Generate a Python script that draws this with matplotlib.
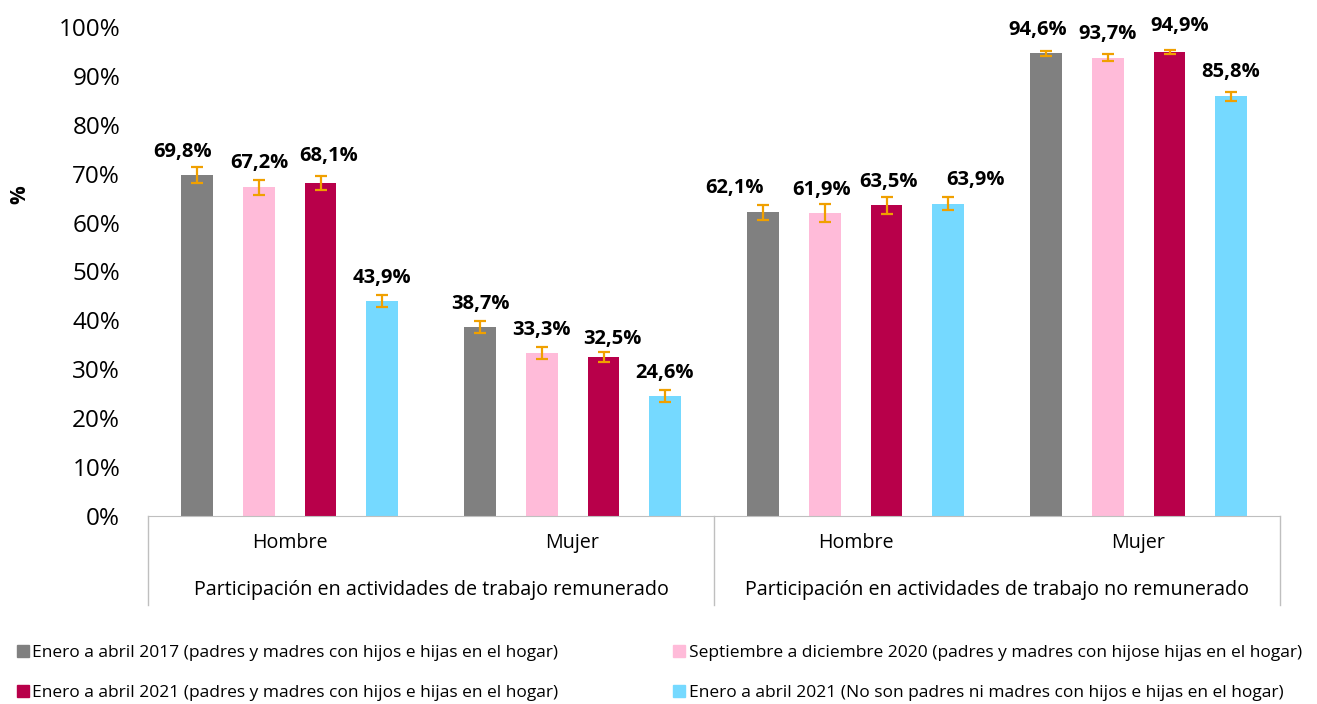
import matplotlib.pyplot as plt
import numpy as np
from matplotlib.patches import Patch
from matplotlib.transforms import blended_transform_factory

plt.rcParams['font.family'] = ['Open Sans', 'DejaVu Sans']

grupos = ["Participación en actividades de trabajo remunerado",
          "Participación en actividades de trabajo no remunerado"]
sexos = ["Hombre", "Mujer", "Hombre", "Mujer"]

series = ["Enero a abril 2017 (padres y madres con hijos e hijas en el hogar)",
          "Septiembre a diciembre 2020 (padres y madres con hijose hijas en el hogar)",
          "Enero a abril 2021 (padres y madres con hijos e hijas en el hogar)",
          "Enero a abril 2021 (No son padres ni madres con hijos e hijas en el hogar)"]

v2017 = [69.8, 38.7, 62.1, 94.6]
v2020 = [67.2, 33.3, 61.9, 93.7]
v2021 = [68.1, 32.5, 63.5, 94.9]
v2021_no = [43.9, 24.6, 63.9, 85.8]

e2017 = [1.6, 1.25, 1.5, 0.5]
e2020 = [1.5, 1.2, 1.85, 0.7]
e2021 = [1.5, 1.1, 1.65, 0.45]
e2021_no = [1.25, 1.2, 1.3, 0.9]

colores = ["#808080", "#FFBBD9", "#B8004A", "#75D9FF"]
valores = [v2017, v2020, v2021, v2021_no]
errores = [e2017, e2020, e2021, e2021_no]

fig = plt.figure(figsize=(13.17, 7.04), dpi=100)
ax = fig.add_axes([148/1317, 1-516/704, (1280-148)/1317, (516-27)/704])

x = np.arange(4)
offs = [-0.327, -0.108, 0.111, 0.327]
w = 0.11

# desplazamiento manual de etiquetas (px), [serie][categoria]
lab_dx = [[-14, 0, -28, -8], [0, 0, -3, 0], [8, 8, 2, 10], [0, 0, 27, 0]]
lab_dy = [[23, 23, 24, 23], [24, 23, 23, 24], [27, 18, 23, 26], [23, 23, 24, 24]]

for i in range(4):
    ax.bar(x + offs[i], valores[i], w, color=colores[i], label=series[i], zorder=2)
    ax.errorbar(x + offs[i], valores[i], yerr=errores[i], fmt="none",
                ecolor="#F0A000", elinewidth=1.6, capsize=4, capthick=1.6, zorder=3)
    for j in range(4):
        ax.annotate("{:.1f}%".format(valores[i][j]).replace(".", ","),
                    (x[j] + offs[i], valores[i][j]),
                    xytext=(lab_dx[i][j] * 0.72, lab_dy[i][j] * 0.72),
                    textcoords="offset points", ha="center", va="center",
                    fontsize=14.5, fontweight="bold", annotation_clip=False)

ax.set_xlim(-0.5, 3.5)
ax.set_ylim(0, 100)
ax.set_yticks(range(0, 101, 10))
ax.set_yticklabels(["{}%".format(t) for t in range(0, 101, 10)], fontsize=17.5)
ax.tick_params(axis="y", length=0, pad=20)
ax.tick_params(axis="x", length=0, pad=12)
ax.set_xticks(x)
ax.set_xticklabels(sexos, fontsize=14.2)
for s in ["top", "right", "left"]:
    ax.spines[s].set_visible(False)
ax.spines["bottom"].set_color("#BFBFBF")

tr = blended_transform_factory(ax.transData, ax.transAxes)
for xs in [-0.5, 1.5, 3.5]:
    ax.plot([xs, xs], [0, -89/489], color="#BFBFBF", lw=1, transform=tr, clip_on=False)
ax.text(0.5, -74/489, grupos[0], transform=tr, ha="center", va="center", fontsize=14.2)
ax.text(2.5, -74/489, grupos[1], transform=tr, ha="center", va="center", fontsize=14.2)

fig.text(20/1317, 1-195/704, "%", rotation=90, fontsize=15, fontweight="bold",
         ha="center", va="center")

handles = [Patch(color=c) for c in colores]
orden = [0, 2, 1, 3]
fig.legend([handles[k] for k in orden], [series[k] for k in orden],
           loc="lower left", bbox_to_anchor=(8/1317, -0.008),
           ncol=2, frameon=False, fontsize=12.5,
           handlelength=0.7, handleheight=0.7, handletextpad=0.2,
           labelspacing=1.35, columnspacing=6.6, borderaxespad=0.1)

fig.savefig("out.png", dpi=100)
